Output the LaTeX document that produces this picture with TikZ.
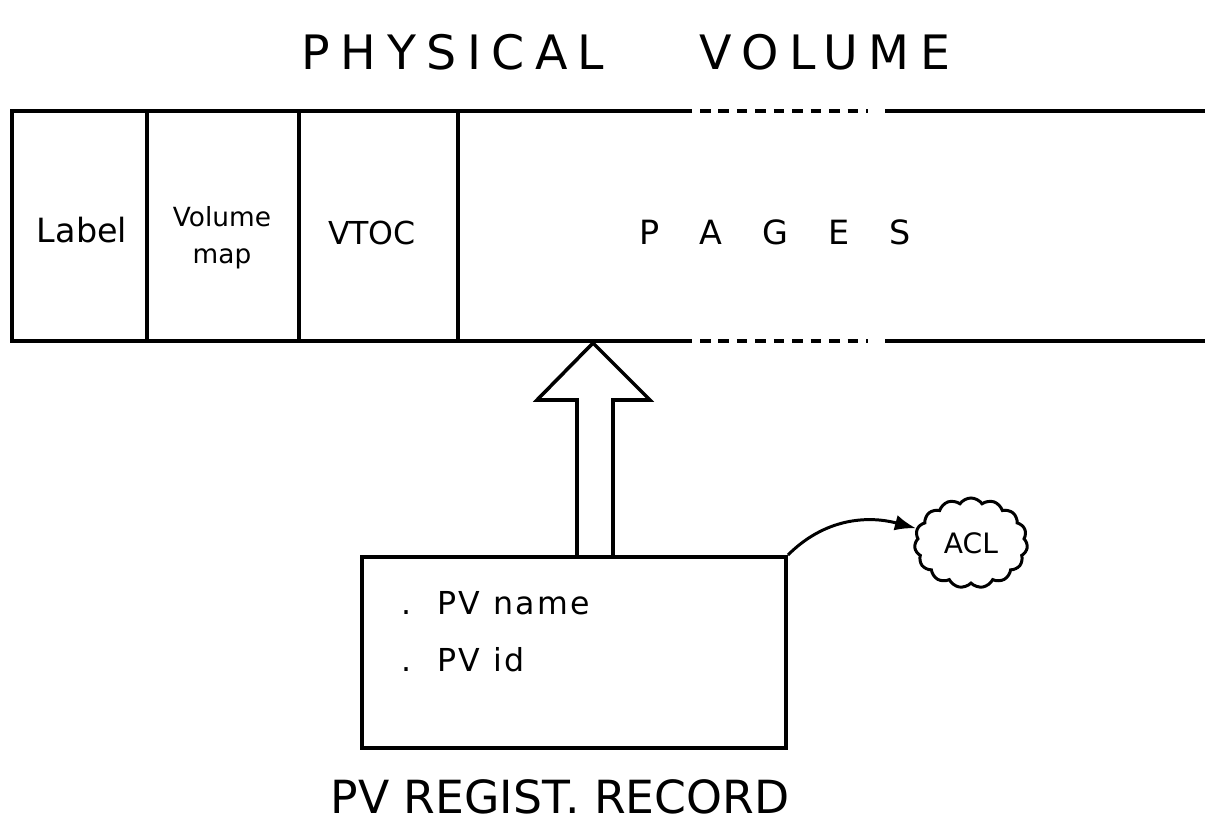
\documentclass[tikz,border=0pt]{standalone}
\usepackage{fontspec}
\setmainfont{DejaVu Sans}
\usetikzlibrary{arrows.meta,shapes.symbols,positioning}
\tikzset{every picture/.style={line width=2.3pt}}

\begin{document}
\begin{tikzpicture}[x=0.02cm, y=-0.02cm,
    big/.style={font=\fontsize{27}{30}\selectfont},
    cell/.style={font=\fontsize{19}{22}\selectfont, align=center},
    item/.style={font=\fontsize{18}{21}\selectfont\addfontfeature{LetterSpace=8}, anchor=west},
    gap/.style={dash pattern=on 6pt off 4.5pt}]
    \useasboundingbox (0,0) rectangle (1205,830);

    % title
    \node[big] (title) at (626,52) {\addfontfeature{LetterSpace=22}PHYSICAL\hspace{2em}VOLUME};

    % the volume strip
    \draw (692,111) -- (12,111) -- (12,341) -- (692,341);
    \draw[gap] (700,111) -- (868,111);
    \draw[gap] (700,341) -- (868,341);
    \draw (885,111) -- (1205,111);
    \draw (885,341) -- (1205,341);
    \foreach \x in {147,299,458}
        \draw (\x,111) -- (\x,341);

    \node[cell] (label) at (82,230) {Label};
    \node[cell, font=\fontsize{15}{21}\selectfont] (vmap) at (222,238) {Volume\\map};
    \node[cell, font=\fontsize{18}{21}\selectfont] (vtoc) at (372,233) {VTOC};
    \node[cell] (pages) at (775,232) {P\hspace{1.2em}A\hspace{1.2em}G\hspace{1.2em}E\hspace{1.2em}S};

    % record box
    \node[draw, inner sep=0pt, minimum width=8.48cm, minimum height=3.82cm] (rec) at (574,652.5) {};
    \node[item] (pvname) at (394,603) {.\hspace{0.8em}PV name};
    \node[item] (pvid) at (394,660) {.\hspace{0.8em}PV id};

    % hollow arrow up to the strip
    \draw[line width=2pt, line join=miter] (577,557) -- (577,400) -- (537,400) -- (593,343)
        -- (650,400) -- (613,400) -- (613,557);

    % ACL cloud
    \node[cloud, draw, line width=1.7pt, cloud puffs=15, cloud puff arc=110, aspect=1.25,
        minimum width=2.26cm, minimum height=1.8cm, inner sep=0pt,
        font=\fontsize{16}{19}\selectfont] (acl) at (971,543) {ACL};
    \draw[-{Latex[length=12pt,width=9pt]}, line width=1.7pt] (rec.north east) to[out=45,in=165] (acl.165);

    % caption
    \node[big, font=\fontsize{26}{29}\selectfont] (cap) at (560,797) {PV REGIST. RECORD};
\end{tikzpicture}
\end{document}
